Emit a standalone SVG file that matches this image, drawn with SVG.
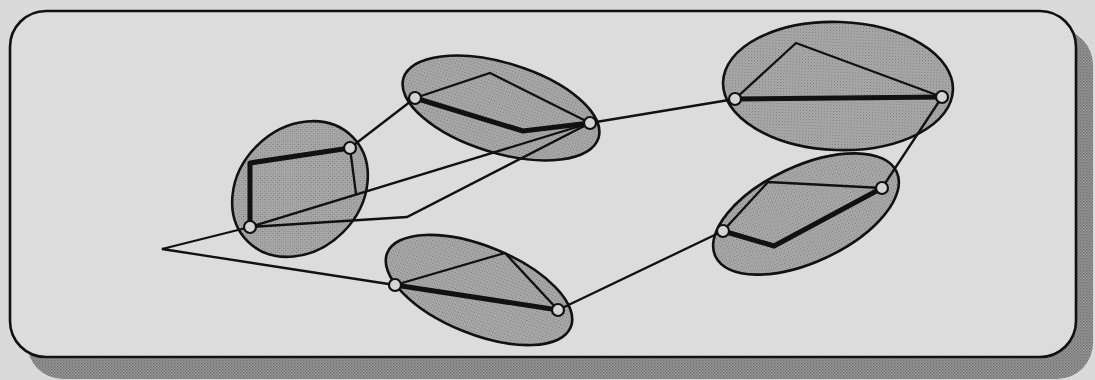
<svg xmlns="http://www.w3.org/2000/svg" width="1095" height="380" viewBox="0 0 1095 380">
<defs>
<pattern id="dots" width="3" height="3" patternUnits="userSpaceOnUse">
<rect width="3" height="3" fill="#adadad"/>
<rect width="1" height="1" fill="#727272"/>
<rect x="1.5" y="1.5" width="1" height="1" fill="#828282"/>
</pattern>
<pattern id="hatch" width="3" height="3" patternUnits="userSpaceOnUse">
<rect width="3" height="3" fill="#9a9a9a"/>
<rect width="1.5" height="1.5" fill="#6e6e6e"/>
<rect x="1.5" y="1.5" width="1.5" height="1.5" fill="#7c7c7c"/>
</pattern>
</defs>
<style>
.cluster{fill:url(#dots);stroke:#111;stroke-width:2.6}
.thin{fill:none;stroke:#111;stroke-width:2.3;stroke-linejoin:miter}
.thick{fill:none;stroke:#111;stroke-width:5;stroke-linejoin:round}
.conn{fill:none;stroke:#111;stroke-width:2.3}
.port{fill:#d4d4d4;stroke:#111;stroke-width:2.2}
</style>
<rect width="1095" height="380" fill="#dadada"/>
<rect id="shadow" x="27" y="29" width="1066" height="350" rx="36" fill="url(#hatch)"/>
<rect id="frame" x="10" y="11" width="1066" height="346" rx="36" fill="#dcdcdc" stroke="#111" stroke-width="2.6"/>

<g id="cluster-a">
<ellipse class="cluster" cx="300" cy="189" rx="74" ry="61" transform="rotate(-45 300 189)"/>
<polyline class="thick" points="250,227 250,163 350,148"/>
<polyline class="thin" points="350,148 356,194"/>
</g>
<g id="cluster-b">
<ellipse class="cluster" cx="501" cy="108" rx="102" ry="45" transform="rotate(17 501 108)"/>
<polyline class="thin" points="415,98 490,73 590,123"/>
<polyline class="thick" points="415,98 523,131 590,123"/>
</g>
<g id="cluster-c">
<ellipse class="cluster" cx="479" cy="290" rx="99" ry="44" transform="rotate(22 479 290)"/>
<polyline class="thin" points="395,285 505,253 558,310"/>
<polyline class="thick" points="395,285 558,310"/>
</g>
<g id="cluster-d">
<ellipse class="cluster" cx="838" cy="86" rx="115" ry="64" transform="rotate(2 838 86)"/>
<polyline class="thin" points="735,99 796,43 942,97"/>
<polyline class="thick" points="735,99 942,97"/>
</g>
<g id="cluster-e">
<ellipse class="cluster" cx="806" cy="214" rx="100" ry="48" transform="rotate(-25 806 214)"/>
<polyline class="thin" points="723,231 768,182 882,188"/>
<polyline class="thick" points="723,231 774,246 882,188"/>
</g>

<g id="connectors">
<line class="conn" x1="350" y1="148" x2="415" y2="98"/>
<line class="conn" x1="250" y1="227" x2="590" y2="123"/>
<polyline class="conn" points="250,227 407,217 590,123"/>
<polyline class="conn" points="250,227 162,249 395,285"/>
<line class="conn" x1="590" y1="123" x2="735" y2="99"/>
<line class="conn" x1="942" y1="97" x2="882" y2="188"/>
<line class="conn" x1="723" y1="231" x2="558" y2="310"/>
</g>

<g id="ports">
<circle class="port" cx="250" cy="227" r="6"/>
<circle class="port" cx="350" cy="148" r="6"/>
<circle class="port" cx="415" cy="98" r="6"/>
<circle class="port" cx="590" cy="123" r="6"/>
<circle class="port" cx="395" cy="285" r="6"/>
<circle class="port" cx="558" cy="310" r="6"/>
<circle class="port" cx="735" cy="99" r="6"/>
<circle class="port" cx="942" cy="97" r="6"/>
<circle class="port" cx="723" cy="231" r="6"/>
<circle class="port" cx="882" cy="188" r="6"/>
</g>
</svg>
